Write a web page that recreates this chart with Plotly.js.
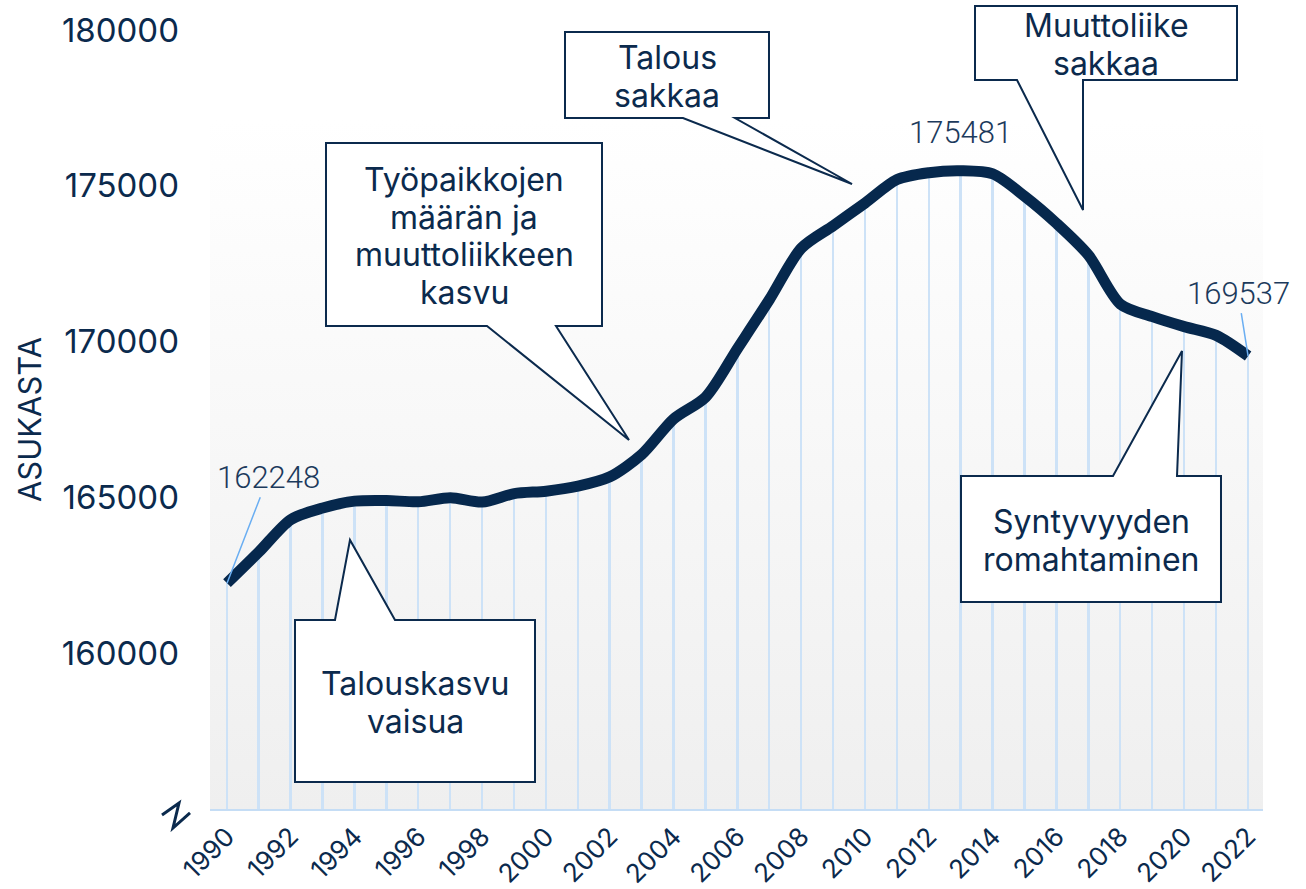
<!DOCTYPE html>
<html>
<head>
<meta charset="utf-8">
<script src="https://cdn.plot.ly/plotly-3.0.1.min.js"></script>
<style>
  html, body { margin: 0; padding: 0; background: #ffffff; }
  #chart { width: 1306px; height: 889px; }
</style>
</head>
<body>
<div id="chart"></div>
<script>
// ---- Data ----
const years = [1990, 1991, 1992, 1993, 1994, 1995, 1996, 1997, 1998, 1999,
               2000, 2001, 2002, 2003, 2004, 2005, 2006, 2007, 2008, 2009,
               2010, 2011, 2012, 2013, 2014, 2015, 2016, 2017, 2018, 2019,
               2020, 2021, 2022];
const population = [162248, 163250, 164290, 164660, 164880, 164900, 164860, 164990, 164850, 165120,
                    165200, 165360, 165660, 166380, 167520, 168220, 169780, 171350, 173000, 173720,
                    174450, 175200, 175420, 175481, 175380, 174660, 173790, 172770, 171200, 170800,
                    170480, 170200, 169537];
const yTickValues = [160000, 165000, 170000, 175000, 180000];
const xTickValues = [1990, 1992, 1994, 1996, 1998, 2000, 2002, 2004, 2006, 2008, 2010,
                     2012, 2014, 2016, 2018, 2020, 2022];
const yAxisTitle = "ASUKASTA";
const labelledYears = [1990, 2013, 2022];

const calloutTexts = [
  ["Talouskasvu", "vaisua"],
  ["Työpaikkojen", "määrän ja", "muuttoliikkeen", "kasvu"],
  ["Talous", "sakkaa"],
  ["Muuttoliike", "sakkaa"],
  ["Syntyvyyden", "romahtaminen"]
];

// ---- Layout geometry (pixels) ----
const W = 1306, H = 889;
const PL = 210, PR = 1263, PT = 30, PB = 809;
const px = X => (X - PL) / (PR - PL);
const py = Y => (PB - Y) / (PB - PT);

const NAVY = "#0b2a4d";
const LINE = "#06284d";
const DROP = "#cde2f7";
const TEXT_FONT = "Inter, 'Noto Sans', sans-serif";

// callout geometry: box [x0,y0,x1,y1], pointer base [bx0,bx1] on 'top' or 'bottom' edge, tip [tx,ty]
const calloutGeom = [
  { box: [295, 620, 535, 782], side: "top",    base: [335, 395],   tip: [350, 540] },
  { box: [326, 143, 602, 326], side: "bottom", base: [487, 556],   tip: [629, 440] },
  { box: [565, 32, 769, 118],  side: "bottom", base: [683, 735],   tip: [852, 184] },
  { box: [975, 6, 1237, 80],   side: "bottom", base: [1017, 1083], tip: [1083, 210] },
  { box: [961, 476, 1221, 602],side: "top",    base: [1113, 1177], tip: [1182, 351] }
];
const LINE_STEP = 37.5;

function calloutPath(g) {
  const [x0, y0, x1, y1] = g.box;
  const [b0, b1] = g.base;
  const [tx, ty] = g.tip;
  let pts;
  if (g.side === "top") {
    pts = [[x0, y0], [b0, y0], [tx, ty], [b1, y0], [x1, y0], [x1, y1], [x0, y1]];
  } else {
    pts = [[x0, y0], [x1, y0], [x1, y1], [b1, y1], [tx, ty], [b0, y1], [x0, y1]];
  }
  return "M " + pts.map(p => px(p[0]).toFixed(5) + "," + py(p[1]).toFixed(5)).join(" L ") + " Z";
}

const shapes = calloutGeom.map(g => ({
  type: "path", xref: "paper", yref: "paper", layer: "above",
  path: calloutPath(g),
  fillcolor: "#ffffff",
  line: { color: NAVY, width: 2 }
}));

// axis-break zigzag at the bottom of the y axis
const breakPts = [[162, 815], [179, 803], [173, 828], [190, 813]];
shapes.push({
  type: "path", xref: "paper", yref: "paper", layer: "above",
  path: "M " + breakPts.map(p => px(p[0]).toFixed(5) + "," + py(p[1]).toFixed(5)).join(" L "),
  line: { color: NAVY, width: 3 }
});

const calloutAnnotations = [];
calloutGeom.forEach((g, i) => {
  const lines = calloutTexts[i];
  const cx = (g.box[0] + g.box[2]) / 2;
  const cy = (g.box[1] + g.box[3]) / 2 + 1.5;
  lines.forEach((ln, k) => {
    calloutAnnotations.push({
      xref: "paper", yref: "paper",
      x: px(cx), y: py(cy + (k - (lines.length - 1) / 2) * LINE_STEP),
      xanchor: "center", yanchor: "middle",
      text: ln, showarrow: false, align: "center",
      font: { family: TEXT_FONT, size: 32, color: NAVY }
    });
  });
});

// data labels
const labelStyle = { family: "Roboto, 'Liberation Sans Narrow', sans-serif", size: 31, color: "#1c3a5c", weight: 300 };
const labelOffsets = { 1990: { ax: 41, ay: -106, arrow: true },
                       2013: { ax: 0, ay: 0, arrow: false, yshift: 38 },
                       2022: { ax: -10, ay: -63, arrow: true } };
const dataLabels = labelledYears.map(yr => {
  const i = years.indexOf(yr);
  const o = labelOffsets[yr];
  const a = {
    xref: "x", yref: "y", x: years[i], y: population[i],
    text: String(population[i]),
    font: labelStyle,
    showarrow: o.arrow
  };
  if (o.arrow) {
    Object.assign(a, { ax: o.ax, ay: o.ay, arrowhead: 0, arrowwidth: 1.5, arrowcolor: "#6aaef2", standoff: 0 });
  } else {
    Object.assign(a, { yshift: o.yshift });
  }
  return a;
});

// background gradient
const gradSvg = "<svg xmlns='http://www.w3.org/2000/svg' width='100' height='100' preserveAspectRatio='none'>" +
  "<defs><linearGradient id='g' x1='0' y1='0' x2='0' y2='1'>" +
  "<stop offset='0' stop-color='#ffffff'/><stop offset='1' stop-color='#efefef'/>" +
  "</linearGradient></defs><rect width='100' height='100' fill='url(#g)'/></svg>";
const gradSrc = "data:image/svg+xml;charset=utf-8," + encodeURIComponent(gradSvg);

const traces = [
  {
    type: "bar", x: years, y: population, width: 0.06,
    marker: { color: DROP, line: { width: 0 } },
    hoverinfo: "skip", showlegend: false
  },
  {
    type: "scatter", mode: "lines", x: years, y: population,
    line: { color: LINE, width: 11, shape: "spline", smoothing: 0.8 },
    hoverinfo: "x+y", showlegend: false
  }
];

const layout = {
  width: W, height: H,
  margin: { l: PL, r: W - PR, t: PT, b: H - PB, pad: 0 },
  paper_bgcolor: "#ffffff",
  plot_bgcolor: "rgba(0,0,0,0)",
  font: { family: TEXT_FONT, color: NAVY },
  showlegend: false,
  bargap: 0,
  xaxis: {
    range: [1989.467, 2022.467],
    tickvals: xTickValues,
    ticktext: xTickValues.map(String),
    tickangle: -45,
    tickfont: { size: 26, color: NAVY },
    showgrid: false, zeroline: false,
    showline: true, linecolor: "#c5ddf5", linewidth: 2,
    ticks: "", ticklabelstandoff: 0,
    automargin: false,
    fixedrange: true
  },
  yaxis: {
    range: [155000, 180000],
    tickvals: yTickValues,
    ticktext: yTickValues.map(String),
    tickfont: { size: 33, color: NAVY },
    showgrid: false, zeroline: false, showline: false,
    ticks: "", ticklabelstandoff: 30,
    title: { text: yAxisTitle, font: { size: 31, color: NAVY }, standoff: 10 },
    fixedrange: true
  },
  images: [{
    source: gradSrc, xref: "paper", yref: "paper",
    x: 0, y: py(120), sizex: 1, sizey: py(120) - py(PB),
    xanchor: "left", yanchor: "top", sizing: "stretch", layer: "below"
  }],
  shapes: shapes,
  annotations: calloutAnnotations.concat(dataLabels)
};

Plotly.newPlot("chart", traces, layout, { displayModeBar: false, staticPlot: false });
</script>
</body>
</html>
